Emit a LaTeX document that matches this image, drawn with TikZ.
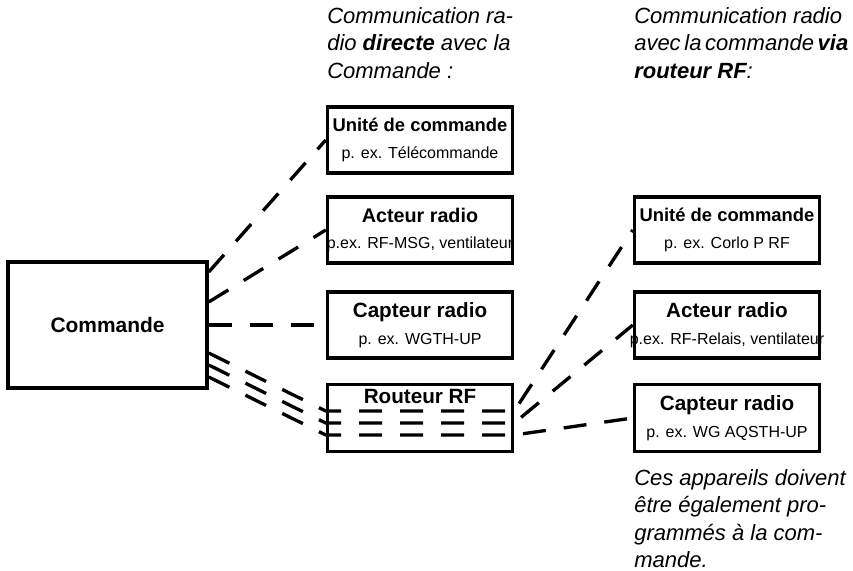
\documentclass[tikz,border=0pt]{standalone}
\usepackage{fontspec}
\setmainfont{Liberation Sans}
\usetikzlibrary{calc}

\tikzset{
  x=0.75pt, y=-0.75pt,
  box/.style={draw, line width=2.6pt, minimum width=185*0.75pt, minimum height=66*0.75pt,
    inner sep=0pt, align=center, font=\fontsize{12}{20}\selectfont},
  link/.style={line width=2.5pt, dash pattern=on 17.25pt off 13.5pt},
  note/.style={anchor=north west, inner sep=0pt, align=left, font=\fontsize{16.5}{20.6}\selectfont\itshape},
}
\newcommand\boxtitle[2][15.5]{\makebox[0pt]{\fontsize{#1}{20}\selectfont\bfseries #2}}
\newcommand\boxsub[1]{\makebox[0pt]{#1}}

\begin{document}
\begin{tikzpicture}
\useasboundingbox (0,0) rectangle (853,571);
% notes
\node[note] (notedirect) at (327,7) {Communication ra-\\dio \textbf{directe} avec la\\Commande :};
\node[note] (notevia) at (634,7) {Communication radio\\avec\,la\,commande\,\textbf{via}\\\textbf{routeur RF}:};
\node[note] (noteprog) at (634,469) {Ces appareils doivent\\être également pro-\\grammés à la com-\\mande.};
% boxes
\node[box, minimum width=199*0.75pt, minimum height=126*0.75pt] (cmd) at (107.5,325) {\boxtitle[15.7]{Commande}};
\node[box] (unite1) at (420,140) {\boxtitle[13.8]{Unité de commande}\\\boxsub{p. ex. Télécommande}};
\node[box] (acteur1) at (420,230) {\boxtitle[14.8]{Acteur radio}\\\boxsub{p.ex. RF-MSG, ventilateur}};
\node[box] (capteur1) at (420,325) {\boxtitle{Capteur radio}\\\boxsub{p. ex. WGTH-UP}};
\node[box, minimum height=67*0.75pt] (routeur) at (420,418) {};
\node[inner sep=0pt, anchor=north, font=\fontsize{15.5}{20}\selectfont\bfseries] (routeurtxt) at ($(routeur.north)+(0,6)$) {Routeur RF};
\node[box] (unite2) at (727,230) {\boxtitle[13.8]{Unité de commande}\\\boxsub{p. ex. Corlo P RF}};
\node[box] (acteur2) at (727,325) {\boxtitle{Acteur radio}\\\boxsub{p.ex. RF-Relais, ventilateur}};
\node[box, minimum height=67*0.75pt] (capteur2) at (727,418) {\boxtitle{Capteur radio}\\\boxsub{p. ex. WG AQSTH-UP}};
% direct links
\draw[link] ($(cmd.east)+(0,-53)$) -- (unite1.west);
\draw[link] ($(cmd.east)+(0,-23)$) -- (acteur1.west);
\draw[link] (cmd.east) -- (capteur1.west);
% links via router
\draw[link] ($(cmd.east)+(0,28)$) -- ($(routeur.west)+(0,-7)$) -- ($(routeur.east)+(0,-7)$) -- (unite2.west);
\draw[link] ($(cmd.east)+(0,40)$) -- ($(routeur.west)+(0,5)$) -- ($(routeur.east)+(0,5)$) -- (acteur2.west);
\draw[link] ($(cmd.east)+(0,52)$) -- ($(routeur.west)+(0,17)$) -- ($(routeur.east)+(0,17)$) -- (capteur2.west);
\end{tikzpicture}
\end{document}
